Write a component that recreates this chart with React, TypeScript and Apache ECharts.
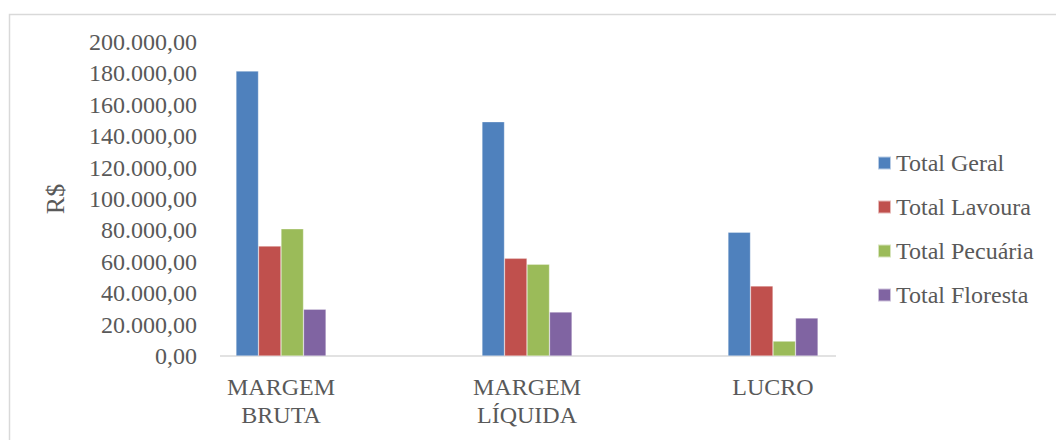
import React, { useEffect, useRef } from "react";
import * as echarts from "echarts";

const categories = ["MARGEM\nBRUTA", "MARGEM\nLÍQUIDA", "LUCRO"];
const seriesNames = ["Total Geral", "Total Lavoura", "Total Pecuária", "Total Floresta"];
const totalGeral = [181500, 149200, 78800];
const totalLavoura = [70000, 62200, 44600];
const totalPecuaria = [81000, 58400, 9500];
const totalFloresta = [29800, 28000, 24200];
const colors = ["#4F81BD", "#C0504D", "#9BBB59", "#8064A2"];

const fmt = (v: number) => {
  const s = Math.round(v).toString().replace(/\B(?=(\d{3})+(?!\d))/g, ".");
  return s + ",00";
};

const FONT = "'Liberation Serif', 'Times New Roman', serif";

export default function App() {
  const ref = useRef<HTMLDivElement>(null);
  useEffect(() => {
    if (!ref.current) return;
    const chart = echarts.init(ref.current, undefined, { renderer: "svg" });
    const data = [totalGeral, totalLavoura, totalPecuaria, totalFloresta];
    chart.setOption({
      animation: false,
      backgroundColor: "#ffffff",
      textStyle: { fontFamily: FONT },
      graphic: [
        {
          type: "rect",
          shape: { x: 9.5, y: 14.5, width: 1100, height: 500 },
          style: { fill: "none", stroke: "#d9d9d9", lineWidth: 1.5 },
          silent: true,
        },
        {
          type: "line",
          shape: { x1: 220, y1: 356, x2: 836, y2: 356 },
          style: { stroke: "#d9d9d9", lineWidth: 1.5 },
          silent: true,
        },
      ],
      grid: { left: 158, right: 160, top: 42, bottom: 84, containLabel: false },
      legend: {
        orient: "vertical",
        left: 877,
        top: 151,
        padding: 0,
        itemWidth: 13,
        itemHeight: 13,
        itemGap: 20,
        icon: "rect",
        data: seriesNames,
        textStyle: { fontFamily: FONT, fontSize: 24, color: "#595959", lineHeight: 24 },
      },
      xAxis: {
        type: "category",
        data: categories,
        axisLine: { show: false },
        axisTick: { show: false },
        axisLabel: {
          fontFamily: FONT,
          fontSize: 24,
          color: "#595959",
          lineHeight: 28,
          margin: 17,
          interval: 0,
        },
      },
      yAxis: {
        type: "value",
        min: 0,
        max: 200000,
        interval: 20000,
        name: "R$",
        nameLocation: "middle",
        nameGap: 90,
        nameRotate: 90,
        nameTextStyle: { fontFamily: FONT, fontSize: 26, color: "#595959" },
        axisLine: { show: false },
        axisTick: { show: false },
        splitLine: { show: false },
        axisLabel: {
          fontFamily: FONT,
          fontSize: 24,
          color: "#595959",
          margin: -39,
          formatter: (v: number) => fmt(v),
        },
      },
      series: seriesNames.map((n, i) => ({
        name: n,
        type: "bar",
        data: data[i],
        barGap: "0%",
        barCategoryGap: "63.4%",
        itemStyle: { color: colors[i], borderColor: "rgba(255,255,255,0.6)", borderWidth: 0.5 },
      })),
    });
    return () => chart.dispose();
  }, []);
  return (
    <div
      ref={ref}
      style={{ position: "absolute", left: 0, top: 0, width: 1056, height: 440 }}
    />
  );
}
